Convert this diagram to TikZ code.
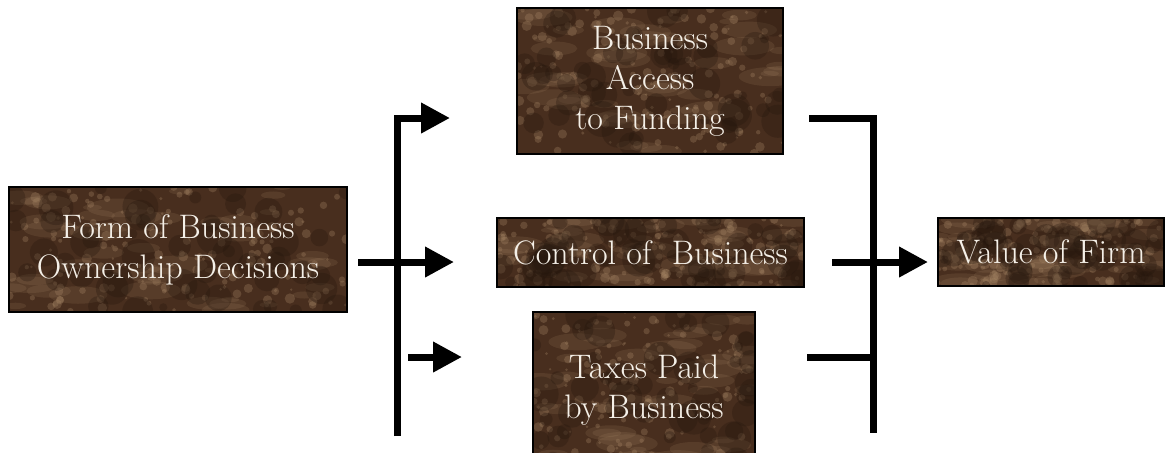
\documentclass[tikz,border=0pt]{standalone}
\usetikzlibrary{arrows.meta,calc}
\definecolor{marblebase}{RGB}{72,46,30}
\definecolor{marblelight}{RGB}{170,138,104}
\definecolor{marbledark}{RGB}{36,22,13}
\definecolor{boxtext}{RGB}{245,240,232}
\tikzset{
  marble/.style={
    draw=black, line width=0.7pt, fill=marblebase, inner sep=0pt,
    text=boxtext, align=center,
    font=\fontsize{17pt}{20pt}\selectfont,
    path picture={
      \pgfpointanchor{path picture bounding box}{south west}\pgfgetlastxy{\xa}{\ya}
      \pgfpointanchor{path picture bounding box}{north east}\pgfgetlastxy{\xb}{\yb}
      \foreach \i in {1,...,45}{
        \pgfmathsetmacro\px{\xa+rnd*(\xb-\xa)}
        \pgfmathsetmacro\py{\ya+rnd*(\yb-\ya)}
        \pgfmathsetmacro\rr{4+rnd*12}
        \pgfmathsetmacro\rot{20+rnd*60}
        \fill[marblelight,opacity=0.16,rotate around={\rot:(\px pt,\py pt)}] (\px pt,\py pt) ellipse ({\rr pt} and {0.3*\rr pt});
      }
      \foreach \i in {1,...,160}{
        \pgfmathsetmacro\px{\xa+rnd*(\xb-\xa)}
        \pgfmathsetmacro\py{\ya+rnd*(\yb-\ya)}
        \pgfmathsetmacro\rr{0.6+rnd*2}
        \fill[marblelight,opacity=0.3] (\px pt,\py pt) circle ({\rr pt});
      }
      \foreach \i in {1,...,50}{
        \pgfmathsetmacro\px{\xa+rnd*(\xb-\xa)}
        \pgfmathsetmacro\py{\ya+rnd*(\yb-\ya)}
        \pgfmathsetmacro\rr{2+rnd*7}
        \fill[marbledark,opacity=0.3] (\px pt,\py pt) circle ({\rr pt});
      }
    }
  },
  bar/.style={line width=3.5pt, line join=miter},
  arr/.style={line width=3.5pt, -{Triangle[length=14.5pt,width=14.5pt]}}
}
\begin{document}
\begin{tikzpicture}[x=0.5pt,y=-0.5pt]
\pgfmathsetseed{7}
\useasboundingbox (0,0) rectangle (1170,452);
% boxes
\node[marble, minimum width=169pt, minimum height=62.5pt] (form) at (178,249.5) {Form of Business\\Ownership Decisions};
\node[marble, minimum width=133pt, minimum height=73pt] (access) at (650,81) {Business\\Access\\ to Funding};
\node[marble, minimum width=153.5pt, minimum height=34.5pt] (control) at (650.5,252.5) {Control of \ Business};
\node[marble, minimum width=111pt, minimum height=78pt] (taxes) at (644,390) {Taxes Paid\\by Business};
\node[marble, minimum width=113pt, minimum height=34pt] (value) at (1051,252) {Value of Firm};
% connector coordinates
\coordinate (lbot) at (397,436);
\coordinate (ltop) at (397,118);
\coordinate (a1) at (450,118);
\coordinate (m0) at (358,262);
\coordinate (a2) at (454,262);
\coordinate (b0) at (408,357);
\coordinate (a3) at (462,357);
\coordinate (r1) at (809,118);
\coordinate (rtop) at (873,118);
\coordinate (rbot) at (873,433);
\coordinate (r3) at (807,357);
\coordinate (rj) at (873,357);
\coordinate (mr0) at (832,262);
\coordinate (mr1) at (928,262);
% left fan-out
\draw[bar] (lbot) -- (ltop) -- ($(ltop)!0.5!(a1)$);
\draw[arr] ($(ltop)+(1,0)$) -- (a1);
\draw[arr] (m0) -- (a2);
\draw[arr] (b0) -- (a3);
% right fan-in
\draw[bar] (r1) -- (rtop) -- (rbot);
\draw[bar] (r3) -- (rj);
\draw[arr] (mr0) -- (mr1);
\end{tikzpicture}
\end{document}
